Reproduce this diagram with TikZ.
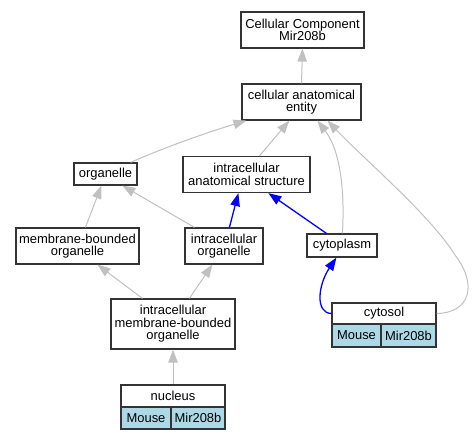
\documentclass[tikz,border=0pt]{standalone}
\usepackage{fontspec}
\setmainfont{Liberation Sans}
\usetikzlibrary{arrows.meta}
\definecolor{edgegray}{HTML}{C0C0C0}
\definecolor{cellblue}{HTML}{ADD8E6}
\definecolor{boxline}{HTML}{333333}
\newcommand{\lab}{\fontsize{13}{12.5}\selectfont}
\tikzset{
  box/.style={draw=boxline, line width=1.2bp, fill=white, inner sep=0pt, align=center, font=\lab},
  cellbox/.style={box, fill=cellblue},
  gedge/.style={draw=edgegray, line width=1bp, -{Triangle[length=13bp,width=9.5bp]}},
  bedge/.style={draw=blue, line width=1.3bp, -{Triangle[length=13bp,width=9.5bp]}}
}
\begin{document}
\begin{tikzpicture}[x=1bp,y=-1bp]
\useasboundingbox (0,0) rectangle (472,440);
% nodes
\node[box, minimum width=123bp, minimum height=36bp] (cc) at (302.5,30) {Cellular Component\\Mir208b};
\node[box, minimum width=119bp, minimum height=36bp] (cae) at (301.5,102) {cellular anatomical\\entity};
\node[box, minimum width=63bp, minimum height=22bp] (org) at (105.5,174) {organelle};
\node[box, minimum width=127bp, minimum height=36bp] (ias) at (246.5,174.5) {intracellular\\anatomical structure};
\node[box, minimum width=123bp, minimum height=36bp] (mbo) at (77.5,246) {membrane-bounded\\organelle};
\node[box, minimum width=78bp, minimum height=36bp] (io) at (224,246) {intracellular\\organelle};
\node[box, minimum width=70bp, minimum height=23bp] (cyto) at (342,245.5) {cytoplasm};
\node[box, minimum width=124bp, minimum height=50bp] (imbo) at (173,324) {intracellular\\membrane-bounded\\organelle};
% cytosol record
\node[box, minimum width=104bp, minimum height=21bp] (cytosol) at (384,313.5) {cytosol};
\node[cellbox, minimum width=49bp, minimum height=23bp] (cytosolm) at (356.5,335.5) {Mouse};
\node[cellbox, minimum width=55bp, minimum height=23bp] (cytosolg) at (408.5,335.5) {Mir208b};
% nucleus record
\node[box, minimum width=104bp, minimum height=22bp] (nuc) at (173,396) {nucleus};
\node[cellbox, minimum width=50bp, minimum height=22bp] (nucm) at (146,418) {Mouse};
\node[cellbox, minimum width=54bp, minimum height=22bp] (nucg) at (198,418) {Mir208b};
% edges
\draw[gedge] (cae.north) -- (cc.south);
\draw[gedge] ([xshift=-7bp]org.north east) .. controls (170,145) and (215,130) .. ([xshift=5bp]cae.south west);
\draw[gedge] ([xshift=77bp]ias.north west) -- ([xshift=48bp]cae.south west);
\draw[gedge] ([xshift=36bp]cyto.north west) .. controls (345,190) and (340,150) .. ([xshift=76bp]cae.south west);
\draw[gedge] (cytosol.east) .. controls (470,313) and (478,285) .. (455,255) .. controls (430,215) and (365,160) .. ([xshift=86bp]cae.south west);
\draw[gedge] ([xshift=70bp]mbo.north west) -- ([xshift=28bp]org.south west);
\draw[gedge] ([xshift=10bp]io.north west) -- ([xshift=49bp]org.south west);
\draw[bedge] ([xshift=45bp]io.north west) -- ([xshift=56bp]ias.south west);
\draw[bedge] ([xshift=20bp]cyto.north west) -- ([xshift=86bp]ias.south west);
\draw[bedge] (cytosol.west) .. controls (315,313) and (318,285) .. ([xshift=30bp]cyto.south west);
\draw[gedge] ([xshift=32bp]imbo.north west) -- ([xshift=82bp]mbo.south west);
\draw[gedge] ([xshift=79bp]imbo.north west) -- ([xshift=28bp]io.south west);
\draw[gedge] (nuc.north) -- (imbo.south);
\end{tikzpicture}
\end{document}
